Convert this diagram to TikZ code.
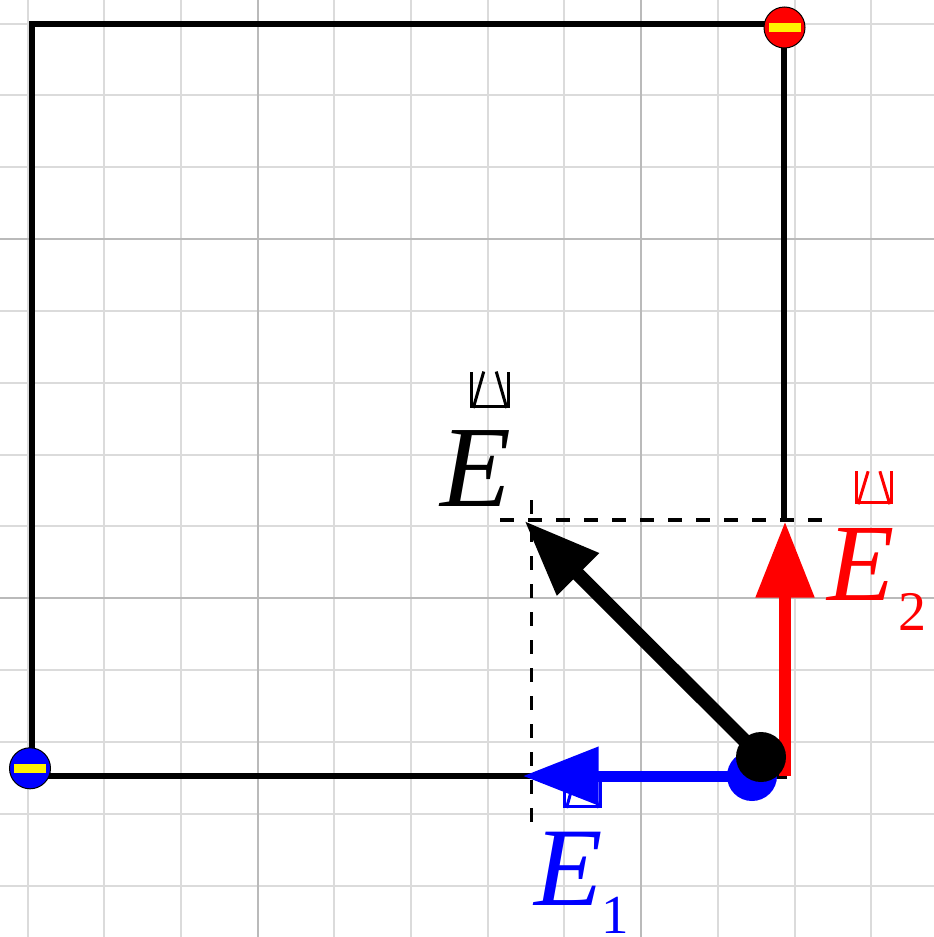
\documentclass[tikz,border=0pt]{standalone}
\usepackage{fontspec}
\setmainfont{Liberation Serif}
\usetikzlibrary{arrows.meta,calc}
\newcommand\tofuglyph[5]{%
  \draw[tofu,#5] (#1,#2) -- (#1,#4) -- (#3,#4) -- (#3,#2);
  \draw[tofu,#5] ($(#1,#2)!0.32!(#3,#2)$) -- ($(#1,#4)!0.06!(#3,#4)$);
  \draw[tofu,#5] ($(#3,#2)!0.32!(#1,#2)$) -- ($(#3,#4)!0.06!(#1,#4)$);
}
\begin{document}
\begin{tikzpicture}[x=1pt,y=-1pt,
  minor/.style={line width=2pt,draw=black!14},
  major/.style={line width=2pt,draw=black!27},
  frameline/.style={line width=5.5pt,draw=black,line join=miter},
  guide/.style={line width=3.3pt,draw=black,dash pattern=on 14pt off 14pt},
  charge/.style={circle,draw=black,line width=1pt,minimum size=41pt,inner sep=0pt,
    path picture={\fill[yellow] ([xshift=-16pt,yshift=-4.3pt]path picture bounding box.center) rectangle ++(32pt,8.6pt);}},
  dot/.style={circle,minimum size=50pt,inner sep=0pt},
  vec/.style={-{Triangle[length=76pt,width=56pt]}},
  lbl/.style={inner sep=0pt,anchor=base west},
  tofu/.style={line width=3pt,line cap=rect}]
\useasboundingbox (0,0) rectangle (934,937);
\fill[white] (0,0) rectangle (934,937);
% grid
\foreach \i in {0,...,11} {\draw[minor] ({27.5+\i*76.7},0) -- ({27.5+\i*76.7},937);}
\foreach \j in {0,...,12} {\draw[minor] (0,{23.5+\j*71.85}) -- (934,{23.5+\j*71.85});}
\foreach \i in {3,8} {\draw[major] ({27.5+\i*76.7},0) -- ({27.5+\i*76.7},937);}
\foreach \j in {3,8} {\draw[major] (0,{23.5+\j*71.85}) -- (934,{23.5+\j*71.85});}
% coordinates
\coordinate (fBR) at (787,776);
\coordinate (fBL) at (32,776);
\coordinate (fTL) at (32,24);
\coordinate (fTR) at (784,24);
\coordinate (fR) at (784,520);
\coordinate (dh1) at (500,520);
\coordinate (dh2) at (823,520);
\coordinate (dv1) at (531.7,500);
\coordinate (dv2) at (531.7,823);
\coordinate (tipB) at (522.7,776);
\coordinate (baseR) at (785,776);
\coordinate (tipR) at (785,521.5);
\coordinate (tipK) at (524.3,520.7);
% frame
\draw[frameline] (fBR) -- (fBL) -- (fTL) -- (fTR) -- (fR);
% guides
\draw[guide] (dh1) -- (dh2);
\draw[guide] (dv1) -- (dv2);
% tofu glyphs
\tofuglyph{471.5}{373}{508.5}{406.5}{black}
\tofuglyph{856.5}{472.7}{891.5}{502.8}{red}
\tofuglyph{564.8}{773}{600.2}{806.5}{blue}
% vectors
\node[dot,fill=blue] (pB) at (752,776) {};
\draw[vec,blue,line width=11pt] (pB.center) -- (tipB);
\draw[vec,red,line width=11.5pt] (baseR) -- (tipR);
\node[dot,fill=black] (pK) at (761,757) {};
\draw[vec,black,line width=14pt] (pK.center) -- (tipK);
% charges
\node[charge,fill=red] (qTop) at (784.5,27.5) {};
\node[charge,fill=blue] (qBot) at (30,768.3) {};
% labels
\node[lbl,text=black] (lE) at (440,506.7) {\fontsize{116}{116}\selectfont\itshape E};
\node[lbl,text=blue] (lE1) at (534,905) {\fontsize{112}{112}\selectfont\itshape E\kern-1.5pt\raisebox{-28pt}{\fontsize{55}{55}\selectfont\upshape 1}};
\node[lbl,text=red] (lE2) at (827,600) {\fontsize{110}{110}\selectfont\itshape E\kern4pt\raisebox{-30pt}{\fontsize{56}{56}\selectfont\upshape 2}};
\end{tikzpicture}
\end{document}
